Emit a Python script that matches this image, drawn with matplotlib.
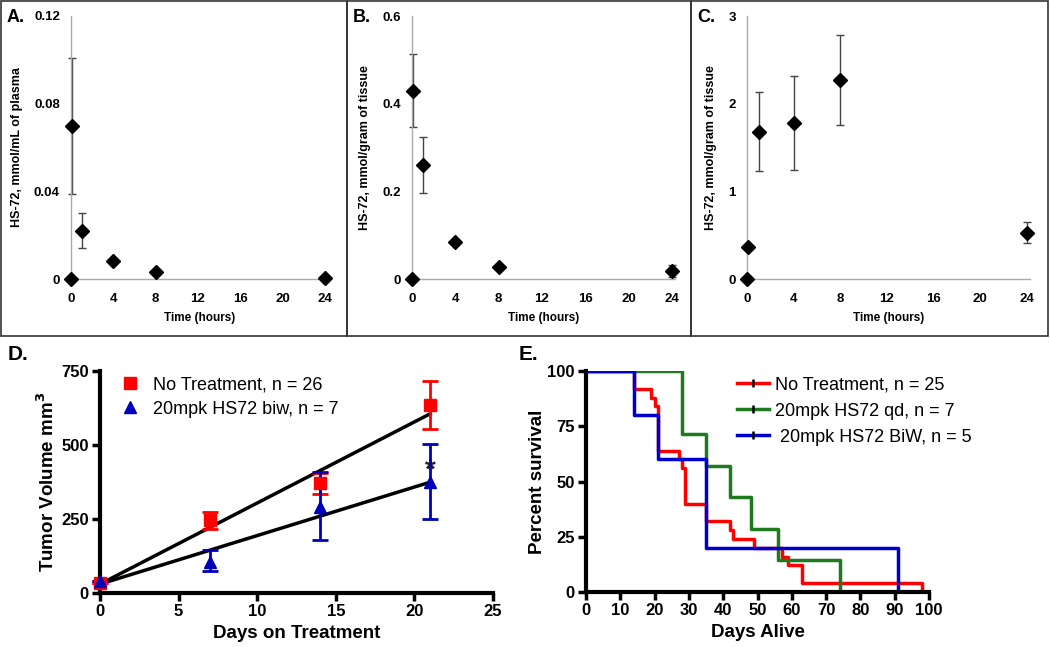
import matplotlib
matplotlib.use("Agg")
import matplotlib.pyplot as plt
import numpy as np
from matplotlib.patches import Rectangle

plt.rcParams['font.family'] = ['Liberation Sans', 'DejaVu Sans']

# --- top panels: HS-72 pharmacokinetics ---
timeHours = [0, 0.08, 1, 4, 8, 24]
plasma = [0, 0.070, 0.022, 0.008, 0.003, 0.0005]
plasmaErr = [0, 0.031, 0.008, 0, 0, 0]
tissueB = [0, 0.43, 0.26, 0.085, 0.027, 0.018]
tissueBErr = [0, 0.083, 0.063, 0, 0, 0.014]
tissueC = [0, 0.37, 1.68, 1.78, 2.27, 0.53]
tissueCErr = [0, 0, 0.45, 0.54, 0.51, 0.115]
topLetters = ["A.", "B.", "C."]
topYLabels = ["HS-72, mmol/mL of plasma", "HS-72, mmol/gram of tissue", "HS-72, mmol/gram of tissue"]
topYTicks = [[0, 0.04, 0.08, 0.12], [0, 0.2, 0.4, 0.6], [0, 1, 2, 3]]
topYTickLabels = [["0", "0.04", "0.08", "0.12"], ["0", "0.2", "0.4", "0.6"], ["0", "1", "2", "3"]]

# --- D: tumor volume ---
daysD = [0, 7, 14, 21]
noTreat = [35, 245, 370, 635]
noTreatErr = [0, 30, 35, 80]
hs72 = [40, 105, 290, 375]
hs72ErrLow = [0, 30, 110, 125]
hs72ErrHigh = [0, 40, 120, 130]
fitNoTreat = [30, 27.4]   # intercept, slope
fitHs72 = [30, 16.4]

# --- E: survival ---
survDaysRed = [0, 14, 19, 20, 21, 27, 28, 29, 35, 42, 43, 49, 57, 59, 63, 98]
survRed = [100, 92, 88, 84, 64, 60, 56, 40, 32, 28, 24, 20, 16, 12, 4, 0]
survDaysGreen = [0, 28, 35, 42, 48, 56, 74]
survGreen = [100, 71.4, 57.1, 42.9, 28.6, 14.3, 0]
survDaysBlue = [0, 14, 21, 35, 91]
survBlue = [100, 80, 60, 20, 0]

W, H = 1050, 647
fig = plt.figure(figsize=(10.5, 6.47), dpi=100)


def px(left, top, right, bottom):
    return [left / W, 1 - bottom / H, (right - left) / W, (bottom - top) / H]


# panel boxes
for x0, x1 in [(1, 347), (347, 691), (691, 1048)]:
    fig.patches.append(Rectangle((x0 / W, 1 - 336 / H), (x1 - x0) / W, 335 / H,
                                 transform=fig.transFigure, fill=False,
                                 edgecolor='#333333', lw=1.2))

topAxes = [px(71, 16, 328, 279), px(412, 16, 675, 279), px(747, 16, 1030, 279)]
topData = [(plasma, plasmaErr), (tissueB, tissueBErr), (tissueC, tissueCErr)]
topYMax = [0.12, 0.6, 3]
boxLeft = [1, 347, 691]
for i in range(3):
    ax = fig.add_axes(topAxes[i])
    vals, errs = topData[i]
    ax.errorbar(timeHours, vals, yerr=errs, fmt='none', ecolor='#444444',
                elinewidth=1, capsize=3, capthick=1, clip_on=False)
    ax.plot(timeHours, vals, 'D', color='black', markersize=7, clip_on=False, zorder=5)
    ax.set_xlim(0, 24.3)
    ax.set_ylim(0, topYMax[i])
    ax.set_xticks([0, 4, 8, 12, 16, 20, 24])
    ax.set_yticks(topYTicks[i])
    ax.set_yticklabels(topYTickLabels[i])
    for s in ['top', 'right']:
        ax.spines[s].set_visible(False)
    for s in ['left', 'bottom']:
        ax.spines[s].set_color('#aaaaaa')
        ax.spines[s].set_linewidth(1)
    ax.tick_params(axis='x', length=0, labelsize=9.5, pad=10)
    ax.tick_params(axis='y', length=0, labelsize=9.5, pad=8)
    for lab in ax.get_xticklabels() + ax.get_yticklabels():
        lab.set_fontweight('bold')
    ax.set_xlabel("Time (hours)", fontsize=8.5, fontweight='bold', labelpad=5)
    ax.set_ylabel(topYLabels[i], fontsize=9, fontweight='bold', labelpad=8)
    fig.text((boxLeft[i] + 6) / W, 1 - 17 / H, topLetters[i], fontsize=13,
             fontweight='bold', va='center', ha='left')

# --- D ---
axD = fig.add_axes(px(100, 371, 493, 593))
xs = np.array([0, 21])
axD.plot(xs, fitNoTreat[0] + fitNoTreat[1] * xs, color='black', lw=2.5, zorder=3)
axD.plot(xs, fitHs72[0] + fitHs72[1] * xs, color='black', lw=2.5, zorder=3)
axD.errorbar(daysD, noTreat, yerr=noTreatErr, fmt='none', ecolor='#ff0000',
             elinewidth=2, capsize=6, capthick=2, clip_on=False, zorder=4)
axD.errorbar(daysD, hs72, yerr=[hs72ErrLow, hs72ErrHigh], fmt='none',
             ecolor='#0000bb', elinewidth=2, capsize=6, capthick=2,
             clip_on=False, zorder=4)
axD.plot(daysD, noTreat, 's', color='#ff0000', markersize=9, clip_on=False, zorder=5,
         label="No Treatment, n = 26")
axD.plot(daysD, hs72, '^', color='#0000bb', markersize=9, clip_on=False, zorder=5,
         label="20mpk HS72 biw, n = 7")
axD.text(21, 415, "*", fontsize=20, fontweight='bold', ha='center', va='center', color='#222222')
axD.set_xlim(0, 25)
axD.set_ylim(0, 750)
axD.set_xticks([0, 5, 10, 15, 20, 25])
axD.set_yticks([0, 250, 500, 750])
axD.set_xlabel("Days on Treatment", fontsize=13.5, fontweight='bold')
axD.set_ylabel("Tumor Volume mm$^\\mathbf{3}$", fontsize=13.5, fontweight='bold', labelpad=2)
axD.legend(loc='upper left', bbox_to_anchor=(0.048, 0.975), frameon=False,
           fontsize=13, handletextpad=0.7, labelspacing=0.4,
           handlelength=1.2, borderpad=0, borderaxespad=0)
fig.text(8 / W, 1 - 355 / H, "D.", fontsize=15, fontweight='bold', va='center')

# --- E ---
axE = fig.add_axes(px(586, 371, 929, 592))
axE.step(survDaysRed, survRed, where='post', color='#ff0000', lw=2.5)
axE.step(survDaysGreen, survGreen, where='post', color='#1e7a1e', lw=2.5)
axE.step(survDaysBlue, survBlue, where='post', color='#0000cc', lw=2.5)
axE.set_xlim(0, 100)
axE.set_ylim(0, 100)
axE.set_xticks(range(0, 101, 10))
axE.set_yticks([0, 25, 50, 75, 100])
axE.set_xlabel("Days Alive", fontsize=13.5, fontweight='bold')
axE.set_ylabel("Percent survival", fontsize=13.5, fontweight='bold', labelpad=1)
legLabels = ["No Treatment, n = 25", "20mpk HS72 qd, n = 7", " 20mpk HS72 BiW, n = 5"]
legColors = ['#ff0000', '#1e7a1e', '#0000cc']
handles = [plt.Line2D([], [], color=c, lw=2.5, marker='|', markersize=6,
                      markeredgecolor='black', markeredgewidth=1.8) for c in legColors]
axE.legend(handles, legLabels, loc='upper left', bbox_to_anchor=(0.44, 0.975), frameon=False,
           fontsize=13, handlelength=1.8, handletextpad=0.3, labelspacing=0.5,
           borderpad=0, borderaxespad=0)
fig.text(519 / W, 1 - 355 / H, "E.", fontsize=15, fontweight='bold', va='center')

for ax in [axD, axE]:
    for s in ['top', 'right']:
        ax.spines[s].set_visible(False)
    for s in ['left', 'bottom']:
        ax.spines[s].set_linewidth(3)
    ax.tick_params(width=2.5, length=6, labelsize=12, pad=2)
    for lab in ax.get_xticklabels() + ax.get_yticklabels():
        lab.set_fontweight('bold')

fig.savefig("out.png", dpi=100)
